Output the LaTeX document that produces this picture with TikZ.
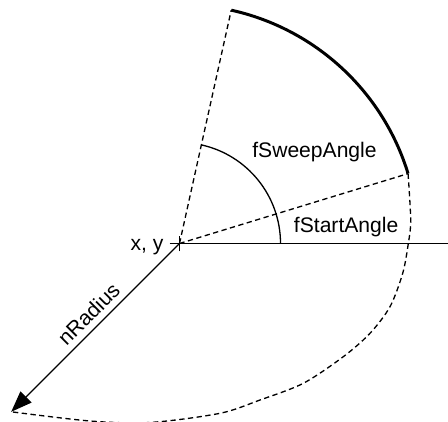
\documentclass[tikz,border=0pt]{standalone}
\usepackage{fontspec}
\setmainfont{Liberation Sans}
\usetikzlibrary{arrows.meta, calc}

\begin{document}
\begin{tikzpicture}[>={Triangle[length=4.2mm, width=3.1mm]}, line width=0.75pt,
  font=\fontsize{12}{14}\selectfont,
  dashline/.style={dash pattern=on 3pt off 2pt},
  lbl/.style={inner sep=0pt}]
\useasboundingbox (-3.59,-3.57) rectangle (5.37,4.87);

% --- Punti ---
\coordinate (C) at (0,0);
\coordinate (H) at (5.37,0);
\coordinate (S) at (17:4.78);
\coordinate (E) at (77.5:4.78);
\coordinate (R) at (225:4.76);
\coordinate (A0) at (0:2.02);

% --- Assi e raggi ---
\draw (C) -- (H);
\draw[dashline] (C) -- (S);
\draw[dashline] (C) -- (E);
\draw (C) +(-0.2,0) -- +(0.2,0);
\draw (C) +(0,-0.16) -- +(0,0.14);

% --- Archi ---
\draw[line width=1.7pt] (S) arc[start angle=17, end angle=77.5, radius=4.78];
\draw (A0) arc[start angle=0, end angle=77.5, radius=2.02];
\draw[dashline] plot[smooth] coordinates {(S) (4.624,0.47) (4.576,0.0) (4.464,-0.596)
  (4.21,-1.264) (3.81,-1.796) (3.276,-2.264) (2.476,-2.796) (1.61,-3.13)
  (0.81,-3.396) (-0.59,-3.58) (-1.79,-3.55) (R)};

% --- Raggio ---
\draw[<-] (R) -- (C) node[pos=0.52, sloped, above] (rad) {nRadius};

% --- Etichette ---
\node[lbl, anchor=base east] (xy) at (-0.31,-0.14) {x, y};
\node[lbl, anchor=base west] (sweep) at (1.444,1.724) {fSweepAngle};
\node[lbl, anchor=base west] (start) at (2.276,0.216) {fStartAngle};

\end{tikzpicture}
\end{document}
